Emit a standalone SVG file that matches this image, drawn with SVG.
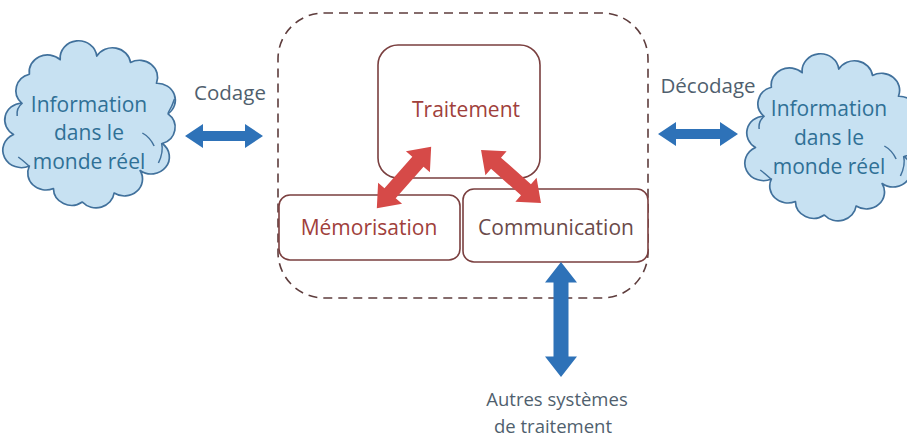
<svg xmlns="http://www.w3.org/2000/svg" width="907" height="440" viewBox="0 0 907 440">
<defs>
<style>
.cloud{fill:#c7e1f2;stroke:#41719c;stroke-width:1.6;stroke-linejoin:round}
.cin{fill:none;stroke:#41719c;stroke-width:1.4}
.ctext{font-family:"Open Sans","Noto Sans",sans-serif;font-size:21px;fill:#2f7096;text-anchor:middle}
.lbl{font-family:"Open Sans","Noto Sans",sans-serif;font-size:20.5px;fill:#505f6e;text-anchor:middle}
.lbl2{font-family:"Open Sans","Noto Sans",sans-serif;font-size:18.5px;fill:#505f6e;text-anchor:middle}
.box{fill:#ffffff;stroke:#7a3f3f;stroke-width:1.6}
.btext{font-family:"Open Sans","Noto Sans",sans-serif;font-size:21px;fill:#a0403b;text-anchor:middle}
.btext2{font-family:"Open Sans","Noto Sans",sans-serif;font-size:21px;fill:#6a4a4a;text-anchor:middle}
.blue{fill:#2e72b8}
.red{fill:#d64a48}
</style>
<path id="cloudShape" d="M29.2,103 A17,17 0 0 1 36.4,74.2 A17,17 0 0 1 65.2,59.8 A17,17 0 0 1 99.4,56.2 A17,17 0 0 1 130.9,62.5 A17,17 0 0 1 155.2,83.2 A17,17 0 0 1 166,113.8 A17,17 0 0 1 160.6,143.5 A17,17 0 0 1 139.9,170.5 A17,17 0 0 1 115.6,193 A17,17 0 0 1 85.9,202 A17,17 0 0 1 58.9,188.5 A17,17 0 0 1 36.4,166 A17,17 0 0 1 21.6,134.5 A17,17 0 0 1 29.2,103 Z"/>
<g id="cloudInner">
<path d="M30,103 Q24,108 25,116"/>
<path d="M166,113 Q170,106 172,99"/>
<path d="M153,146 Q149,137 142,133"/>
<path d="M36,166 Q30,160 26,157"/>
<path d="M160,143 Q162,152 157,163"/>
</g>
</defs>
<rect width="907" height="440" fill="#ffffff"/>

<g id="container">
<rect x="278" y="13" width="370" height="285" rx="46" ry="46" fill="none" stroke="#5e3d3d" stroke-width="1.6" stroke-dasharray="9,6"/>
</g>

<g id="cloud-left">
<g transform="translate(91,130) scale(1.07,1) translate(-94,-130)">
<use href="#cloudShape" class="cloud"/>
<use href="#cloudInner" class="cin"/>
</g>
<text class="ctext" x="89" y="112">Information</text>
<text class="ctext" x="89" y="140">dans le</text>
<text class="ctext" x="89" y="169">monde réel</text>
</g>

<g id="cloud-right">
<g transform="translate(833,143) scale(1.07,1) translate(-94,-130)">
<use href="#cloudShape" class="cloud"/>
<use href="#cloudInner" class="cin"/>
</g>
<text class="ctext" x="829" y="116">Information</text>
<text class="ctext" x="829" y="145">dans le</text>
<text class="ctext" x="829" y="174">monde réel</text>
</g>

<g id="traitement">
<rect class="box" x="378" y="45" width="162" height="133" rx="20" ry="20"/>
<text class="btext" x="466" y="117">Traitement</text>
</g>
<g id="memorisation">
<rect class="box" x="279" y="195" width="181" height="65" rx="11" ry="11"/>
<text class="btext" x="369" y="235">Mémorisation</text>
</g>
<g id="communication">
<rect class="box" x="463" y="189" width="185" height="73" rx="11" ry="11"/>
<text class="btext2" x="556" y="235">Communication</text>
</g>

<g id="labels">
<text class="lbl" x="230" y="100">Codage</text>
<text class="lbl" x="708" y="93">Décodage</text>
<text class="lbl2" x="557" y="406">Autres systèmes</text>
<text class="lbl2" x="553" y="433">de traitement</text>
</g>

<g id="connectors">
<path class="blue" transform="translate(224,136)" d="M-39,0 L-21,-12 L-21,-5 L21,-5 L21,-12 L39,0 L21,12 L21,5 L-21,5 L-21,12 Z"/>
<path class="blue" transform="translate(698,134)" d="M-40,0 L-22,-12 L-22,-5 L22,-5 L22,-12 L40,0 L22,12 L22,5 L-22,5 L-22,12 Z"/>
<path class="blue" transform="translate(561,319.5)" d="M0,-57.5 L16,-37 L7.5,-37 L7.5,37 L16,37 L0,57.5 L-16,37 L-7.5,37 L-7.5,-37 L-16,-37 Z"/>
<path class="red" transform="translate(404,177.5) rotate(-48.5)" d="M-41,0 L-21,-16 L-21,-7.5 L21,-7.5 L21,-16 L41,0 L21,16 L21,7.5 L-21,7.5 L-21,16 Z"/>
<path class="red" transform="translate(511,176.5) rotate(41.5)" d="M-40,0 L-20,-16 L-20,-7.5 L20,-7.5 L20,-16 L40,0 L20,16 L20,7.5 L-20,7.5 L-20,16 Z"/>
</g>
</svg>
